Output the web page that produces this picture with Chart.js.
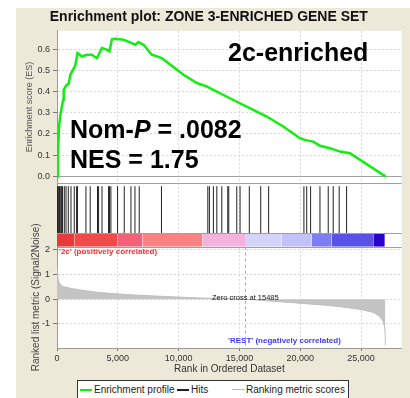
<!DOCTYPE html>
<html>
<head>
<meta charset="utf-8">
<script src="https://cdn.jsdelivr.net/npm/chart.js@4.4.0/dist/chart.umd.min.js"></script>
<style>
  body { margin: 0; background: #fff; overflow: hidden; font-family: 'Liberation Sans', Arial, sans-serif; }
  #panel { position: absolute; left: 16px; top: 8px; width: 394px; height: 390px; background: #ece9d8; overflow: hidden; }
  #gsea { position: absolute; left: 0; top: 0; }
  .big { position: absolute; font-size: 25px; line-height: 25px; font-weight: bold; color: #000; white-space: nowrap; }
  .legend { position: absolute; left: 61px; top: 372px; width: 270px; height: 24px; border: 1px solid #333; background: #fff; font-size: 10px; color: #222; }
  .legend .txt { position: absolute; top: 3px; line-height: 12px; white-space: nowrap; }
  .legend .sw { position: absolute; top: 8px; height: 2px; }
</style>
</head>
<body>
<div id="panel">
  <canvas id="gsea" width="394" height="372"></canvas>
  <div class="big" style="left:212px; top:32px">2c-enriched</div>
  <div class="big" style="left:54px; top:109px">Nom-<i>P</i> = .0082</div>
  <div class="big" style="left:54px; top:139px">NES = 1.75</div>
  <div class="legend">
    <span class="sw" style="left:2px; width:12px; background:#12ee12"></span>
    <span class="txt" style="left:16px">Enrichment profile</span>
    <span class="sw" style="left:99px; width:12px; background:#222"></span>
    <span class="txt" style="left:113px">Hits</span>
    <span class="sw" style="left:154px; width:13px; height:1px; background:#bbb"></span>
    <span class="txt" style="left:168px">Ranking metric scores</span>
  </div>
</div>
<script>
const FONT = "'Liberation Sans', Arial, sans-serif";

// running enrichment score
const esRanks = [0, 80, 180, 300, 500, 550, 770, 960, 1100, 1310, 1500, 1690, 2050, 2460, 2870, 3280,
  3690, 4100, 4310, 4520, 4790, 5470, 6020, 6430, 6700, 7110, 7800, 8620, 10400, 11500, 12300,
  12850, 14500, 16140, 17240, 18600, 19970, 20380, 21070, 21620, 22440, 23260, 24080, 27000];
const esScores = [0, 0.117, 0.243, 0.298, 0.36, 0.408, 0.43, 0.437, 0.479, 0.502, 0.521, 0.581, 0.565, 0.573, 0.573, 0.557,
  0.605, 0.597, 0.589, 0.647, 0.649, 0.644, 0.631, 0.62, 0.633, 0.62, 0.573, 0.557, 0.479, 0.44, 0.424,
  0.408, 0.36, 0.314, 0.282, 0.235, 0.18, 0.172, 0.164, 0.144, 0.133, 0.117, 0.109, 0];

// positions of gene set members in the ranked list
const hitRanks = [30, 50, 100, 164, 200, 271, 378, 450, 600, 740, 928, 1150, 1420, 1610, 1690, 2380, 2730,
  3330, 3420, 3700, 4240, 4320, 4430, 4980, 5530, 6080, 6410, 6760, 8590, 12400, 12530, 12860, 13140,
  13550, 14040, 14120, 14780, 15050, 15810, 16750, 17400, 20300, 20530, 20850, 21620, 22300, 22710,
  23200, 23810];

// ranked list metric (signal2noise)
const metricRanks = [0, 40, 150, 400, 1100, 1900, 3560, 6300, 9030, 11760, 15485, 17240, 19970, 22700,
  24900, 26000, 26540, 26810, 26950, 27000];
const metricScores = [1.3, 0.99, 0.72, 0.54, 0.45, 0.38, 0.27, 0.175, 0.11, 0.05, 0, -0.06, -0.16, -0.27,
  -0.41, -0.54, -0.71, -0.91, -1.18, -1.85];
const zeroCross = 15485;

// heat map bar under the hits
const heatEdges = [0, 1420, 4980, 7030, 11950, 15460, 18470, 20930, 22580, 26050, 26950];
const heatColors = ['#e83a3a', '#f04a4a', '#f4627a', '#fa8282', '#f6b2de', '#d4d4fa', '#c2c2f8',
  '#7e7ef4', '#5a52e6', '#2a00cc'];

// tick labels
const rankTicks = [0, 5000, 10000, 15000, 20000, 25000];
const esTicks = [0, 0.1, 0.2, 0.3, 0.4, 0.5, 0.6];
const metricTicks = [-1, 0, 1, 2];

const hitData = hitRanks.flatMap((r) => [{ x: r, y: 0 }, { x: r, y: 0.94 }, { x: r, y: null }]);

const heatSets = heatColors.map((color, i) => ({
  data: [{ x: heatEdges[i], y: 1 }, { x: heatEdges[i + 1], y: 1 }],
  yAxisID: 'yBar',
  fill: 'origin',
  backgroundColor: color,
  borderWidth: 0,
  pointRadius: 0,
}));

const fixTicks = (list) => (scale) => {
  scale.ticks = list.map((v) => ({ value: v }));
};

const decor = {
  id: 'decor',
  beforeDraw(chart) {
    const { ctx, chartArea: a } = chart;
    ctx.save();
    ctx.fillStyle = '#fff';
    ctx.fillRect(a.left, a.top, a.right - a.left, a.bottom - a.top);
    ctx.restore();
  },
  beforeDatasetsDraw(chart) {
    const { ctx, chartArea: a, scales } = chart;
    ctx.save();
    ctx.strokeStyle = '#a0a0a0';
    ctx.lineWidth = 1;
    const y0 = Math.round(scales.yES.getPixelForValue(0)) + 0.5;
    ctx.beginPath();
    ctx.moveTo(a.left, y0);
    ctx.lineTo(a.right, y0);
    ctx.stroke();
    // zero cross marker
    const zx = Math.round(scales.x.getPixelForValue(zeroCross)) + 0.5;
    ctx.strokeStyle = '#a8a8a8';
    ctx.setLineDash([3, 3]);
    ctx.beginPath();
    ctx.moveTo(zx, scales.yMetric.top);
    ctx.lineTo(zx, scales.yMetric.bottom);
    ctx.stroke();
    ctx.restore();
  },
  afterDatasetsDraw(chart) {
    const { ctx, chartArea: a, scales } = chart;
    const x = scales.x;
    const ym = scales.yMetric;
    ctx.save();
    ctx.strokeStyle = '#a0a0a0';
    ctx.lineWidth = 1;
    [scales.yHits.top, scales.yBar.top, scales.yBar.bottom].forEach((yy) => {
      const y = Math.round(yy) + 0.5;
      ctx.beginPath();
      ctx.moveTo(a.left, y);
      ctx.lineTo(a.right, y);
      ctx.stroke();
    });

    ctx.textBaseline = 'middle';
    ctx.font = `bold 8px ${FONT}`;
    ctx.fillStyle = '#ff2a2a';
    ctx.textAlign = 'left';
    ctx.fillText("'2c' (positively correlated)", x.getPixelForValue(0) + 2, ym.getPixelForValue(1.93));

    ctx.fillStyle = '#3a3aff';
    ctx.textAlign = 'center';
    ctx.fillText("'REST' (negatively correlated)", x.getPixelForValue(18700), ym.getPixelForValue(-1.69));

    ctx.font = `7.5px ${FONT}`;
    ctx.fillStyle = '#111';
    ctx.fillText(`Zero cross at ${zeroCross}`, x.getPixelForValue(zeroCross), ym.getPixelForValue(0.07));
    ctx.restore();
  },
};

function leftAxis(extra) {
  return Object.assign({
    type: 'linear',
    position: 'left',
    stack: 'gsea',
    afterFit: (s) => { s.width = 41; },
    border: { color: '#9a9a9a', dash: [2, 2] },
    grid: { color: '#d8d8d8', tickLength: 4, tickColor: '#777' },
    ticks: { font: { size: 9, family: FONT }, color: '#333', padding: 3 },
  }, extra);
}

const plainTicks = { display: false };
const noGrid = { display: false, drawTicks: false };

new Chart(document.getElementById('gsea'), {
  type: 'line',
  data: {
    datasets: [
      {
        label: 'Enrichment profile',
        data: esRanks.map((r, i) => ({ x: r, y: esScores[i] })),
        yAxisID: 'yES',
        borderColor: '#12ee12',
        borderWidth: 2.5,
        pointRadius: 0,
        tension: 0,
      },
      {
        label: 'Hits',
        data: hitData,
        yAxisID: 'yHits',
        borderColor: '#222',
        borderWidth: 1,
        pointRadius: 0,
        spanGaps: false,
      },
      ...heatSets,
      {
        label: 'Ranking metric scores',
        data: metricRanks.map((r, i) => ({ x: r, y: metricScores[i] })),
        yAxisID: 'yMetric',
        fill: 'origin',
        backgroundColor: '#c4c4c4',
        borderColor: '#bdbdbd',
        borderWidth: 1,
        pointRadius: 0,
        tension: 0.2,
      },
    ],
  },
  options: {
    responsive: false,
    animation: false,
    layout: { padding: { left: 0, right: 8.3, top: 0, bottom: 0 } },
    plugins: {
      legend: { display: false },
      tooltip: { enabled: false },
      title: {
        display: true,
        text: 'Enrichment plot: ZONE 3-ENRICHED GENE SET',
        color: '#111',
        font: { size: 14, weight: 'bold', family: FONT },
        padding: { top: 1, bottom: 5 },
      },
    },
    scales: {
      x: {
        type: 'linear',
        position: 'bottom',
        min: 0,
        max: 28340,
        afterFit: (s) => { s.height = 32; },
        afterBuildTicks: fixTicks(rankTicks),
        border: { color: '#9a9a9a', dash: [2, 2] },
        grid: { color: '#d8d8d8', tickLength: 3, tickColor: '#777' },
        ticks: {
          maxRotation: 0,
          autoSkip: false,
          font: { size: 9, family: FONT },
          color: '#333',
          padding: 2,
          callback: (v) => v.toLocaleString('en-US'),
        },
        title: {
          display: true,
          text: 'Rank in Ordered Dataset',
          color: '#333',
          font: { size: 10, family: FONT },
          padding: { top: 0, bottom: 5 },
        },
      },
      yES: leftAxis({
        min: -0.032,
        max: 0.686,
        stackWeight: 152.3,
        weight: 4,
        afterBuildTicks: fixTicks(esTicks),
        ticks: {
          autoSkip: false,
          font: { size: 9, family: FONT },
          color: '#333',
          padding: 3,
          callback: (v) => v.toFixed(1),
        },
        title: {
          display: true,
          text: 'Enrichment score (ES)',
          color: '#555',
          font: { size: 9, family: FONT },
          padding: { top: 8 },
        },
      }),
      yHits: leftAxis({ min: 0, max: 1, stackWeight: 50, weight: 3, ticks: plainTicks, grid: noGrid }),
      yBar: leftAxis({ min: 0, max: 1, stackWeight: 13.4, weight: 2, ticks: plainTicks, grid: noGrid }),
      yMetric: leftAxis({
        min: -1.976,
        max: 2.134,
        stackWeight: 101.3,
        weight: 1,
        afterBuildTicks: fixTicks(metricTicks),
        ticks: {
          autoSkip: false,
          font: { size: 9, family: FONT },
          color: '#333',
          padding: 3,
        },
        title: {
          display: true,
          text: 'Ranked list metric (Signal2Noise)',
          color: '#444',
          font: { size: 10, family: FONT },
          padding: { top: 14 },
        },
      }),
    },
  },
  plugins: [decor],
});
</script>
</body>
</html>
